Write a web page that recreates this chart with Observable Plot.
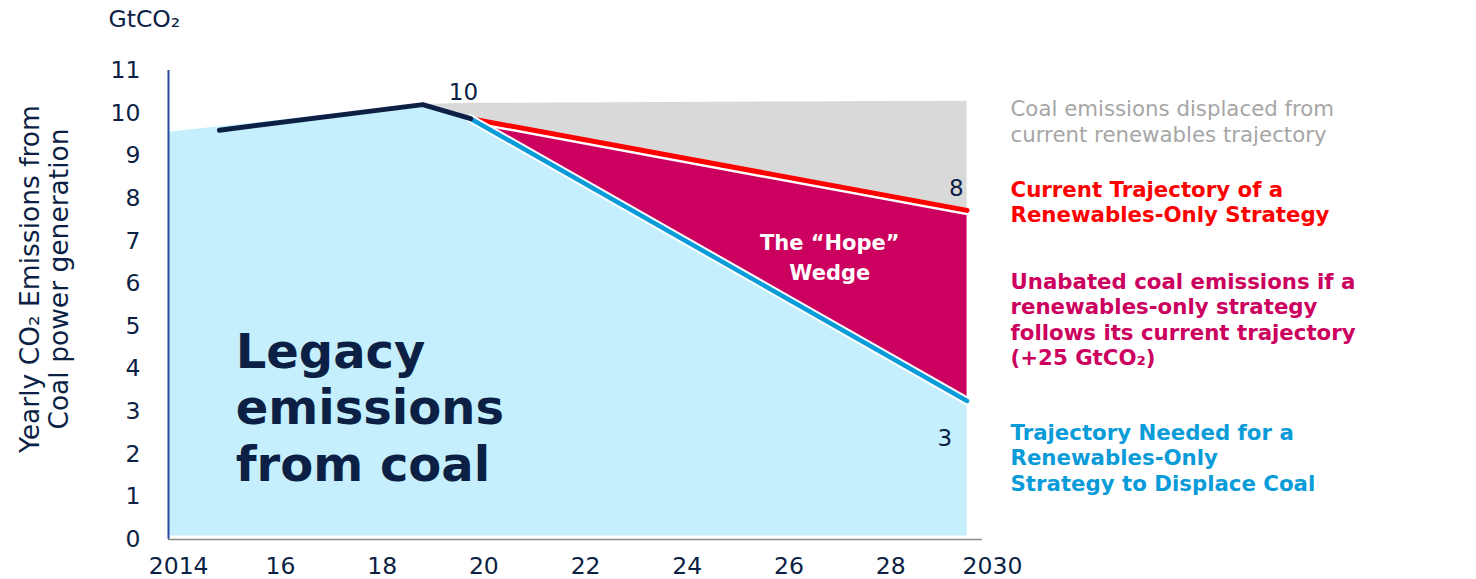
<!DOCTYPE html>
<html>
<head>
<meta charset="utf-8">
<script src="https://cdn.jsdelivr.net/npm/d3@7"></script>
<script src="https://cdn.jsdelivr.net/npm/@observablehq/plot@0.6"></script>
<style>
  html, body { margin: 0; padding: 0; background: #fff; }
  #chart svg { display: block; }
</style>
</head>
<body>
<div id="chart"></div>
<script>
// ---------- data ----------
const legacyYears = [2013.8, 2018.8, 2019.74, 2029.5];
const legacyValues = [9.55, 10.2, 9.87, 3.25];

const historyYears = [2014.8, 2018.8, 2019.74];
const historyValues = [9.6, 10.2, 9.87];

const pathYears = [2019.74, 2029.5];
const currentTrajectory = [9.87, 7.72];   // renewables-only, current trajectory
const neededTrajectory = [9.87, 3.25];    // needed to displace coal

const displacedYears = [2018.8, 2019.74, 2029.5];
const displacedTop = [10.2, 10.23, 10.28];
const displacedBottom = [10.2, 9.87, 7.72];

const xTicks = [2014, 2016, 2018, 2020, 2022, 2024, 2026, 2028, 2030];
const xTickLabels = ["2014", "16", "18", "20", "22", "24", "26", "28", "2030"];
const yTicks = [0, 1, 2, 3, 4, 5, 6, 7, 8, 9, 10, 11];

const valueLabels = ["10", "8", "3"];
const valueLabelYears = [2019.6, 2029.29, 2029.06];
const valueLabelValues = [10.48, 8.23, 2.37];

const yTitle = "Yearly CO₂ Emissions from\nCoal power generation";
const unitLabel = "GtCO₂";
const legacyLabel = "Legacy\nemissions\nfrom coal";
const wedgeLabel = "The “Hope”\nWedge";
const legendTexts = [
  "Coal emissions displaced from\ncurrent renewables trajectory",
  "Current Trajectory of a\nRenewables-Only Strategy",
  "Unabated coal emissions if a\nrenewables-only strategy\nfollows its current trajectory\n(+25 GtCO₂)",
  "Trajectory Needed for a\nRenewables-Only\nStrategy to Displace Coal"
];

// ---------- styles ----------
const NAVY = "#0c1f45";
const LIGHTBLUE = "#c6effd";
const BLUE = "#0a9bd9";
const RED = "#ff0000";
const CRIMSON = "#cc005e";
const GRAY = "#d9d9d9";
const legendColors = ["#a6a6a6", RED, CRIMSON, BLUE];
const legendWeights = ["normal", "bold", "bold", "bold"];
const legendOffsets = [27.5, 108, 200, 351];

const legacy = legacyYears.map((x, i) => ({x, y: legacyValues[i]}));
const history = historyYears.map((x, i) => ({x, y: historyValues[i]}));
const current = pathYears.map((x, i) => ({x, y: currentTrajectory[i]}));
const needed = pathYears.map((x, i) => ({x, y: neededTrajectory[i]}));
const wedge = pathYears.map((x, i) => ({x, lo: neededTrajectory[i], hi: currentTrajectory[i]}));
const displaced = displacedYears.map((x, i) => ({x, lo: displacedBottom[i], hi: displacedTop[i]}));
const valueLabelData = valueLabels.map((t, i) => ({t, x: valueLabelYears[i], y: valueLabelValues[i]}));
const xLabelMap = new Map(xTicks.map((d, i) => [d, xTickLabels[i]]));
const X0 = 2013.8;

const legendMarks = legendTexts.map((t, i) => Plot.text([t], {
  frameAnchor: "top-right", dx: 18, dy: legendOffsets[i],
  text: d => d, textAnchor: "start", lineAnchor: "top", lineHeight: 1.2,
  fill: legendColors[i], fontWeight: legendWeights[i], fontSize: 21.3
}));

const chart = Plot.plot({
  width: 1476,
  height: 579,
  marginLeft: 168,
  marginRight: 484,
  marginTop: 70,
  marginBottom: 40,
  x: {domain: [X0, 2030]},
  y: {domain: [0, 11]},
  style: {fontFamily: "'DejaVu Sans', Verdana, sans-serif", fontSize: "20px", color: NAVY, background: "#fff", overflow: "visible"},
  marks: [
    Plot.areaY(legacy, {x: "x", y1: 0.08, y2: "y", fill: LIGHTBLUE}),
    Plot.areaY(displaced, {x: "x", y1: "lo", y2: "hi", fill: GRAY}),
    Plot.areaY(wedge, {x: "x", y1: "lo", y2: "hi", fill: CRIMSON}),
    Plot.line(current, {x: "x", y: "y", stroke: "#fff", strokeWidth: 3, dy: 3.5}),
    Plot.line(current, {x: "x", y: "y", stroke: RED, strokeWidth: 5}),
    Plot.line(needed, {x: "x", y: "y", stroke: "#fff", strokeWidth: 8.5}),
    Plot.line(needed, {x: "x", y: "y", stroke: BLUE, strokeWidth: 4.5}),
    Plot.line(history, {x: "x", y: "y", stroke: NAVY, strokeWidth: 5, strokeLinecap: "round", strokeLinejoin: "round"}),
    Plot.ruleX([X0], {y1: 0, y2: 11, stroke: "#2a4a9e", strokeWidth: 2}),
    Plot.ruleY([0], {x1: X0, x2: 2029.8, stroke: "#8c8c8c", strokeWidth: 1.5}),
    Plot.axisX(xTicks, {tickSize: 0, tickPadding: 18, tickFormat: d => xLabelMap.get(d), fontSize: 23.5, color: NAVY, label: null}),
    Plot.axisY(yTicks, {tickSize: 0, tickPadding: 28, fontSize: 23.5, color: NAVY, label: null}),
    Plot.text(valueLabelData, {x: "x", y: "y", text: "t", fontSize: 23, fill: NAVY}),
    Plot.text([legacyLabel], {x: 2015.12, y: 4.975, text: d => d, textAnchor: "start", lineAnchor: "top", lineHeight: 1.18, fontSize: 48, fontWeight: "bold", fill: NAVY}),
    Plot.text([wedgeLabel], {x: 2026.8, y: 6.66, text: d => d, textAnchor: "middle", lineAnchor: "middle", lineHeight: 1.43, fontSize: 21, fontWeight: "bold", fill: "#fff"}),
    Plot.text([yTitle], {frameAnchor: "left", rotate: -90, dx: -124, dy: -26, text: d => d, textAnchor: "middle", lineAnchor: "middle", lineHeight: 1.1, fontSize: 26.5, fill: NAVY}),
    Plot.text([unitLabel], {frameAnchor: "top-left", dx: -60, dy: -60, text: d => d, textAnchor: "start", lineAnchor: "top", fontSize: 23.5, fill: NAVY}),
    ...legendMarks
  ]
});
document.getElementById("chart").appendChild(chart);
</script>
</body>
</html>
